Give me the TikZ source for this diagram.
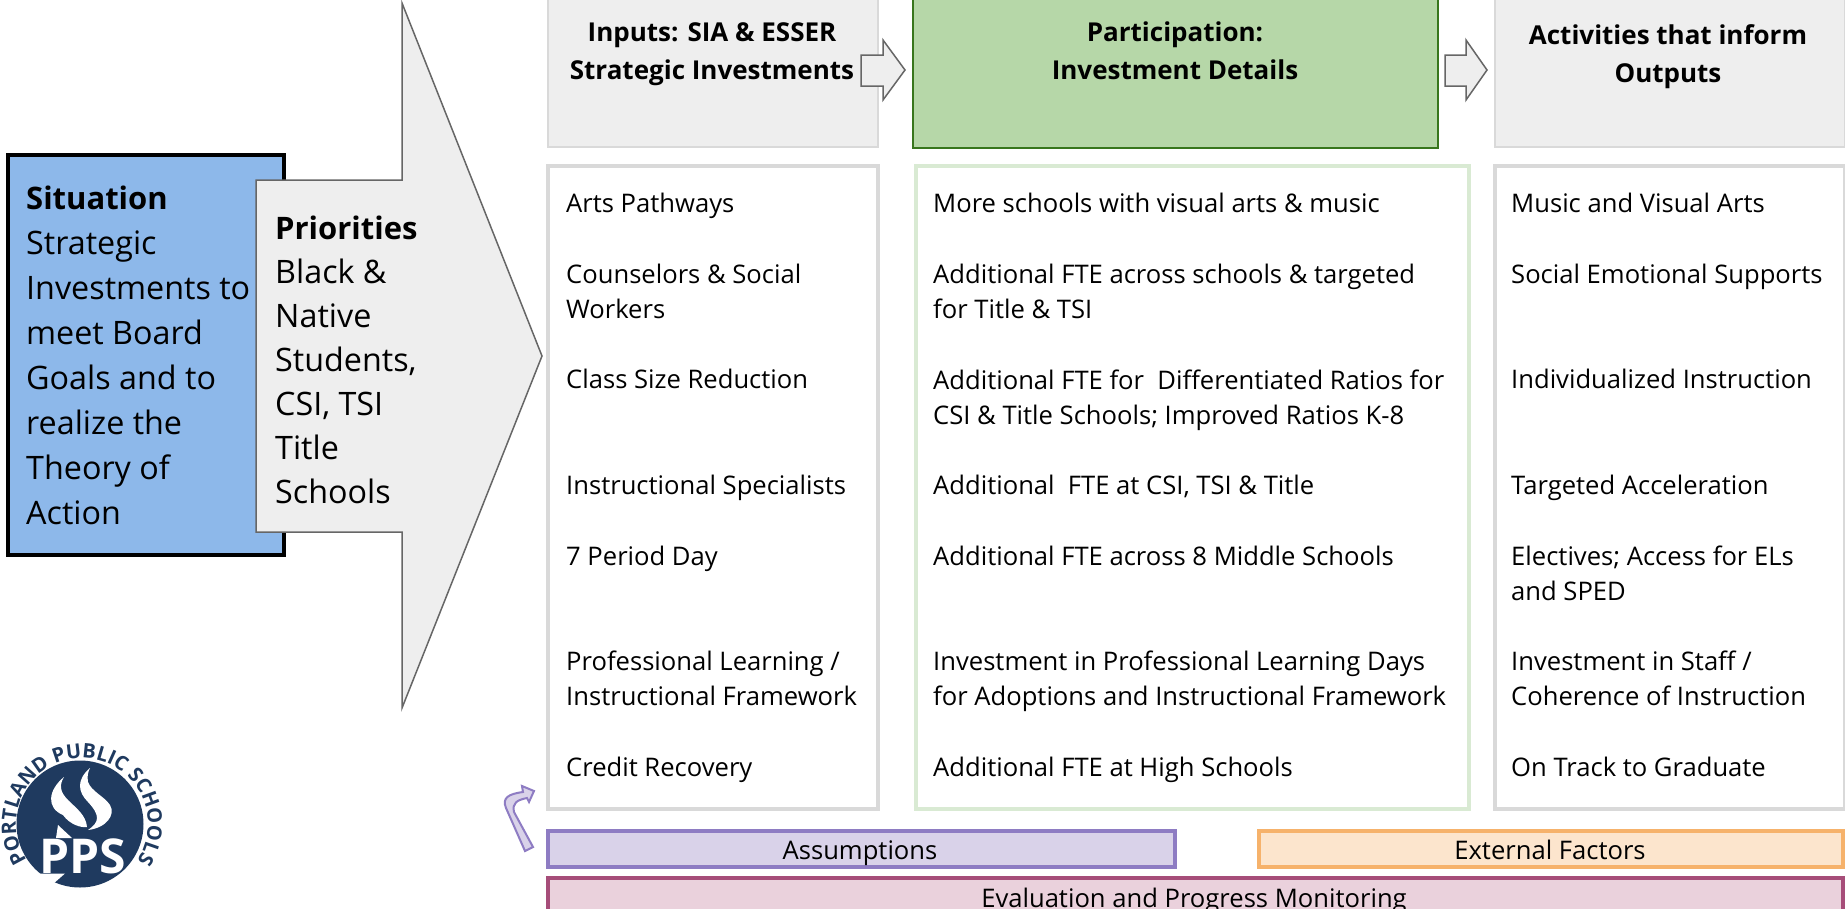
\documentclass[tikz,border=0pt]{standalone}
\usepackage{fontspec}
\setmainfont{Open Sans}
\usetikzlibrary{decorations.text}

\definecolor{headgray}{HTML}{EEEEEE}
\definecolor{listgray}{HTML}{D9D9D9}
\definecolor{arrowgray}{HTML}{666666}
\definecolor{sitblue}{HTML}{8DB8EA}
\definecolor{partgreen}{HTML}{B6D7A8}
\definecolor{partline}{HTML}{38761D}
\definecolor{listgreen}{HTML}{D9EAD3}
\definecolor{asmfill}{HTML}{D9D2E9}
\definecolor{asmline}{HTML}{8E7CC3}
\definecolor{extfill}{HTML}{FCE5CD}
\definecolor{extline}{HTML}{F6B26B}
\definecolor{evalfill}{HTML}{EAD1DC}
\definecolor{evalline}{HTML}{A64D79}
\definecolor{ppsblue}{HTML}{1F3A5F}

\tikzset{
  panel/.style={draw, rectangle, anchor=north west, inner sep=0pt, outer sep=0pt},
  headtext/.style={align=center, inner sep=0pt, font=\fontsize{26}{38}\selectfont\bfseries,
    execute at begin node={\rule{0pt}{27pt}}, execute at end node={\rule[-10pt]{0pt}{0pt}}},
  itemtext/.style={anchor=west, align=left, inner sep=0pt, font=\fontsize{25.6}{35.3}\selectfont,
    execute at begin node={\rule{0pt}{26pt}}, execute at end node={\rule[-9.3pt]{0pt}{0pt}}},
  bigtext/.style={anchor=north west, align=left, inner sep=0pt},
  bartext/.style={inner sep=0pt, font=\fontsize{25.6}{30}\selectfont,
    execute at begin node={\rule{0pt}{24pt}}, execute at end node={\rule[-8pt]{0pt}{0pt}}},
  blockarrow/.style={draw=arrowgray, fill=headgray, line width=1.5pt, line join=miter},
}

\begin{document}
\begin{tikzpicture}[x=1pt, y=-1pt]
          \useasboundingbox (0,0) rectangle (1845,908);

          % Situation box and the big arrow over it
          \node[panel, fill=sitblue, line width=3.5pt, minimum width=276pt, minimum height=400pt] (Situation) at (8,155) {};
          \node[bigtext, font=\fontsize{32.3}{44.9}\selectfont] (SituationText) at (26,186) {{\fontsize{31}{44.9}\selectfont\bfseries Situation}\\Strategic\\Investments to\\meet Board\\Goals and to\\realize the\\Theory of\\Action};
          \draw[blockarrow] (256,180) -- (402,180) -- (402,3) -- (542,356) -- (402,708) -- (402,532) -- (256,532) -- cycle;
          \node[bigtext, font=\fontsize{32.3}{44}\selectfont] (PriorityText) at (275,215.5) {{\fontsize{31}{44}\selectfont\bfseries Priorities}\\Black \&\\Native\\Students,\\CSI, TSI\\Title\\Schools};

          % Header boxes
          \node[panel, draw=listgray, fill=headgray, line width=1.5pt, minimum width=330pt, minimum height=149pt] (InputHead) at (548,-2) {};
          \node[panel, draw=partline, fill=partgreen, line width=1.5pt, minimum width=525pt, minimum height=150pt] (PartHead) at (913,-2) {};
          \node[panel, draw=listgray, fill=headgray, line width=1.5pt, minimum width=350pt, minimum height=149pt] (ActHead) at (1495,-2) {};
          \node[headtext] (InputText) at (712,56) {Inputs: SIA \& ESSER\\Strategic Investments};
          \node[headtext] (PartText) at (1175,56) {Participation:\\Investment Details};
          \node[headtext] (ActText) at (1668,59) {Activities that inform\\Outputs};

          % Arrows between headers
          \draw[blockarrow] (861,55) -- (883,55) -- (883,40) -- (905,70) -- (883,100) -- (883,86) -- (861,86) -- cycle;
          \draw[blockarrow] (1445,55) -- (1466,55) -- (1466,40) -- (1487,70) -- (1466,100) -- (1466,86) -- (1445,86) -- cycle;

          % List boxes
          \node[panel, draw=listgray, line width=3.5pt, minimum width=330pt, minimum height=643pt] (InputList) at (548,166) {};
          \node[panel, draw=listgreen, line width=3.5pt, minimum width=553pt, minimum height=643pt] (PartList) at (916,166) {};
          \node[panel, draw=listgray, line width=3.5pt, minimum width=350pt, minimum height=643pt] (ActList) at (1495,166) {};

          % Inputs column
          \node[itemtext] (I1) at (566,204) {Arts Pathways};
          \node[itemtext] (I2) at (566,296) {Counselors \& Social\\Workers};
          \node[itemtext] (I3) at (566,380) {Class Size Reduction};
          \node[itemtext] (I4) at (566,486) {Instructional Specialists};
          \node[itemtext] (I5) at (566,557) {7 Period Day};
          \node[itemtext] (I6) at (566,683) {Professional Learning /\\Instructional Framework};
          \node[itemtext] (I7) at (566,768) {Credit Recovery};

          % Participation column
          \node[itemtext] (P1) at (933,204) {More schools with visual arts \& music};
          \node[itemtext] (P2) at (933,296) {Additional FTE across schools \& targeted\\for Title \& TSI};
          \node[itemtext] (P3) at (933,402) {Additional FTE for\ \ Differentiated Ratios for\\CSI \& Title Schools; Improved Ratios K-8};
          \node[itemtext] (P4) at (933,486) {Additional\ \ FTE at CSI, TSI \& Title};
          \node[itemtext] (P5) at (933,557) {Additional FTE across 8 Middle Schools};
          \node[itemtext] (P6) at (933,683) {Investment in Professional Learning Days\\for Adoptions and Instructional Framework};
          \node[itemtext] (P7) at (933,768) {Additional FTE at High Schools};

          % Activities column
          \node[itemtext] (A1) at (1511,204) {Music and Visual Arts};
          \node[itemtext] (A2) at (1511,275) {Social Emotional Supports};
          \node[itemtext] (A3) at (1511,380) {Individualized Instruction};
          \node[itemtext] (A4) at (1511,486) {Targeted Acceleration};
          \node[itemtext] (A5) at (1511,578) {Electives; Access for ELs\\and SPED};
          \node[itemtext] (A6) at (1511,683) {Investment in Staff /\\Coherence of Instruction};
          \node[itemtext] (A7) at (1511,768) {On Track to Graduate};

          % Bottom bars
          \node[panel, draw=asmline, fill=asmfill, line width=3.5pt, minimum width=627pt, minimum height=36pt] (Assume) at (548,831) {};
          \node[panel, draw=extline, fill=extfill, line width=3.5pt, minimum width=584pt, minimum height=36pt] (External) at (1259,831) {};
          \node[panel, draw=evalline, fill=evalfill, line width=3.5pt, minimum width=1295pt, minimum height=42pt] (Evaluation) at (548,878) {};
          \node[bartext] (AssumeText) at (860,851) {Assumptions};
          \node[bartext] (ExternalText) at (1550,851) {External Factors};
          \node[bartext] (EvaluationText) at (1194,899) {Evaluation and Progress Monitoring};

          % Small bent arrow
          \draw[draw=asmline, fill=asmfill, line width=2pt, line join=miter] (525,851) -- (506,808) .. controls (502,798) and (508,794) .. (523,792) -- (522,786) -- (534,791) -- (529,802) -- (527,798) .. controls (517,800) and (512,803) .. (514,812) -- (533,847) -- cycle;

          % Logo
          \node[fill=ppsblue, circle, minimum size=127pt, inner sep=0pt] (Seal) at (80,824) {};
          \path[decorate, decoration={text along path, text align=center, text={|\fontsize{20}{20}\selectfont\bfseries\color{ppsblue}|PORTLAND PUBLIC SCHOOLS}}] (29.6,864.2) arc[start angle=142.5, end angle=397.5, radius=66];
          \fill[white] (64,777) .. controls (48,790) and (46,808) .. (63,815) .. controls (70,825) and (82,828) .. (87,827) .. controls (86,815) and (76,808) .. (68,800) .. controls (60,792) and (59,785) .. (64,777) -- cycle;
          \fill[white] (90,768) .. controls (76,780) and (78,792) .. (88,802) .. controls (100,815) and (100,822) .. (88,830) .. controls (106,828) and (116,815) .. (110,805) .. controls (104,796) and (92,792) .. (88,782) .. controls (87,776) and (88,772) .. (90,768) -- cycle;
          \fill[white] (58,825) -- (56,838) -- (72,838) -- cycle;
          \fill[white] (39,873.5) -- (65,873.5) -- (53,884) -- (40,889) -- (28,880) -- cycle;
          \node[text=white, inner sep=0pt, anchor=base, font=\fontsize{48}{48}\selectfont\bfseries] (PPS) at (83,873) {PPS};
\end{tikzpicture}
\end{document}
